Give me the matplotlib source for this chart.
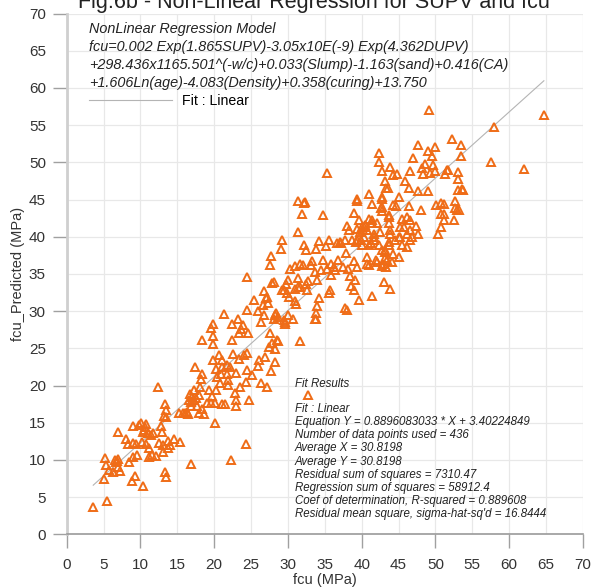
import numpy as np
import matplotlib.pyplot as plt
from matplotlib.ticker import MultipleLocator
from matplotlib.lines import Line2D

plt.rcParams['font.family'] = ['Liberation Sans', 'DejaVu Sans']

# measured vs predicted compressive strength (MPa)
fcu = np.array([
    3.6, 5.5, 5.2, 5.3, 5.1, 5.8, 6.5, 6.7, 6.9, 6.3,
    7.2, 7.0, 8.0, 8.3, 8.5, 8.9, 9.3, 9.0, 9.0, 9.0,
    9.4, 9.5, 9.8, 10.1, 10.3, 10.2, 10.3, 10.6, 10.8, 11.0,
    10.7, 11.1, 11.2, 11.6, 11.4, 11.7, 12.1, 12.4, 12.8, 12.9,
    12.5, 13.0, 13.1, 13.3, 13.2, 13.3, 13.4, 13.5, 13.4, 13.7,
    13.8, 14.0, 14.5, 15.4, 15.2, 15.8, 16.1, 16.3, 16.9, 16.8,
    16.7, 17.2, 17.0, 16.9, 17.4, 17.7, 17.9, 18.0, 18.1, 18.2,
    18.4, 18.3, 18.6, 18.4, 19.0, 19.3, 19.5, 19.7, 19.6, 19.8,
    19.9, 19.9, 19.9, 20.1, 20.1, 20.2, 20.4, 20.3, 20.6, 20.8,
    21.0, 21.1, 21.3, 21.0, 21.5, 21.7, 21.9, 21.9, 22.2, 22.3,
    22.4, 22.4, 22.5, 22.8, 22.9, 23.0, 22.9, 23.2, 23.3, 23.4,
    23.5, 23.6, 23.9, 24.1, 24.3, 24.3, 24.4, 24.5, 24.5, 24.6,
    24.5, 24.7, 25.1, 25.4, 25.9, 26.0, 26.1, 26.4, 26.3, 26.6,
    26.7, 26.8, 26.9, 27.1, 27.2, 27.3, 27.4, 27.5, 27.7, 27.6,
    27.7, 27.9, 28.1, 28.2, 28.3, 28.4, 28.5, 29.0, 29.2, 29.2,
    29.4, 29.6, 29.8, 29.9, 30.0, 6.8, 7.0, 10.5, 16.5, 17.3,
    17.5, 16.6, 21.8, 20.9, 28.7, 29.6, 30.0, 30.7, 31.1, 31.7,
    28.6, 27.9, 31.3, 32.2, 31.9, 34.8, 38.9, 39.3, 41.4, 42.6,
    43.7, 31.3, 30.9, 31.0, 30.9, 28.1, 27.0, 28.2, 29.5, 30.2,
    30.3, 31.3, 31.6, 31.7, 31.3, 32.0, 32.2, 32.5, 32.5, 32.6,
    32.7, 33.1, 33.3, 33.6, 33.8, 33.9, 34.2, 34.2, 34.0, 33.8,
    33.8, 34.5, 34.7, 35.2, 35.3, 35.5, 35.6, 35.7, 35.8, 35.9,
    36.2, 36.4, 36.6, 36.8, 37.0, 37.2, 37.5, 37.7, 37.8, 37.9,
    38.0, 38.2, 38.3, 38.4, 38.5, 38.7, 38.9, 39.0, 39.1, 39.2,
    39.3, 39.4, 39.6, 39.9, 40.2, 40.3, 40.4, 41.0, 41.4, 41.4,
    41.6, 41.7, 41.9, 42.1, 42.5, 42.8, 43.0, 43.2, 43.4, 43.7,
    43.8, 44.1, 35.3, 39.3, 41.0, 42.8, 33.6, 38.0, 32.3, 40.7,
    52.2, 53.5, 57.5, 53.5, 47.7, 49.0, 50.0, 49.5, 42.3, 42.4,
    46.9, 43.8, 42.8, 46.5, 48.6, 48.2, 49.6, 50.0, 49.3, 48.3,
    51.6, 51.3, 53.1, 53.0, 44.8, 43.2, 45.9, 43.6, 46.4, 47.7,
    49.0, 53.1, 53.7, 44.3, 42.8, 45.0, 43.3, 42.7, 44.2, 44.7,
    46.4, 51.1, 52.6, 48.1, 42.7, 52.9, 51.1, 46.1, 46.6, 45.5,
    43.7, 52.5, 50.8, 41.0, 45.7, 47.4, 47.7, 50.4, 43.9, 45.0,
    46.8, 41.2, 43.7, 45.5, 46.1, 42.8, 43.2, 42.9, 40.1, 39.8,
    39.6, 40.7, 41.4, 39.4, 40.1, 41.0, 41.7, 42.3, 43.7, 43.9,
    44.5, 45.2, 45.2, 46.1, 46.6, 46.6, 43.2, 44.2, 45.1, 40.7,
    43.3, 50.1, 51.1, 50.8, 52.6, 53.2, 50.8, 53.6, 64.7, 58.0,
    62.0, 51.7, 49.1, 40.3, 42.1,
])
fcu_pred = np.array([
    3.7, 4.5, 10.3, 9.3, 7.5, 8.6, 10.0, 9.7, 9.1, 8.4,
    8.5, 13.7, 12.8, 12.1, 9.7, 7.2, 7.9, 10.4, 14.5, 12.3,
    12.1, 10.7, 14.7, 15.0, 13.8, 12.4, 6.5, 14.4, 14.8, 13.6,
    12.2, 11.6, 10.4, 10.7, 13.3, 13.6, 10.5, 19.8, 14.6, 13.8,
    12.3, 11.0, 12.0, 17.5, 15.9, 8.4, 7.7, 15.8, 16.7, 12.6,
    11.6, 12.0, 12.8, 12.4, 16.3, 16.3, 16.3, 16.4, 9.4, 17.8,
    18.9, 19.4, 18.5, 17.2, 22.5, 17.2, 16.3, 18.7, 19.8, 20.9,
    21.6, 26.1, 16.2, 16.9, 17.7, 19.4, 17.7, 18.6, 27.7, 28.3,
    26.6, 25.6, 23.4, 17.7, 15.0, 19.4, 21.2, 22.2, 24.1, 20.3,
    22.5, 23.4, 29.6, 17.5, 17.5, 21.6, 20.1, 20.7, 22.5, 10.0,
    28.3, 26.1, 24.3, 19.0, 18.0, 17.2, 21.7, 29.0, 27.0, 23.5,
    19.8, 27.6, 28.2, 24.1, 12.1, 20.5, 22.1, 24.4, 30.2, 27.0,
    34.6, 18.0, 21.4, 31.5, 30.0, 22.6, 23.4, 28.6, 20.3, 30.8,
    32.7, 29.5, 23.9, 31.9, 19.8, 31.1, 25.2, 36.2, 37.4, 27.0,
    21.9, 33.8, 29.0, 24.9, 23.2, 29.7, 26.1, 38.3, 39.6, 32.8,
    28.8, 28.6, 33.7, 32.4, 34.2, 9.9, 10.1, 14.0, 16.2, 18.0,
    18.3, 18.1, 22.8, 21.5, 29.2, 28.3, 29.5, 29.0, 30.9, 26.0,
    26.0, 25.7, 44.8, 44.5, 43.0, 42.9, 43.2, 44.8, 44.4, 43.8,
    42.9, 40.7, 36.0, 33.0, 31.3, 33.9, 31.7, 29.5, 32.8, 31.9,
    35.7, 34.5, 36.4, 33.3, 33.2, 36.2, 38.9, 38.2, 33.7, 32.9,
    34.1, 36.2, 36.7, 35.3, 38.3, 34.2, 39.4, 31.7, 30.7, 29.8,
    29.0, 35.5, 36.9, 38.7, 35.7, 32.5, 39.5, 32.8, 36.4, 34.8,
    35.9, 35.5, 39.2, 36.9, 39.3, 39.1, 35.9, 39.5, 30.4, 37.8,
    41.5, 35.6, 40.9, 34.7, 33.4, 39.5, 32.9, 36.8, 34.2, 39.3,
    35.9, 41.1, 31.5, 39.5, 40.9, 40.0, 41.6, 36.2, 32.0, 42.2,
    39.5, 40.4, 36.9, 41.8, 40.7, 36.0, 33.9, 38.0, 36.9, 39.3,
    33.0, 36.6, 48.5, 45.1, 45.7, 45.1, 29.0, 30.2, 44.7, 37.3,
    53.2, 52.3, 50.1, 50.8, 52.3, 51.5, 52.1, 50.9, 51.2, 50.1,
    50.6, 49.4, 48.9, 48.8, 49.8, 49.2, 49.6, 48.9, 48.6, 48.4,
    49.0, 48.4, 48.7, 47.8, 48.4, 47.5, 47.5, 46.6, 46.6, 46.2,
    46.2, 46.3, 46.3, 48.3, 45.4, 45.4, 46.6, 44.0, 44.2, 44.1,
    44.1, 44.4, 44.8, 43.6, 43.5, 43.6, 43.1, 42.7, 42.3, 42.4,
    42.7, 42.2, 41.3, 42.4, 41.3, 41.5, 40.4, 40.3, 40.4, 40.0,
    40.0, 39.1, 38.9, 38.9, 38.6, 38.2, 37.1, 36.4, 41.3, 40.7,
    42.2, 40.9, 41.8, 39.5, 38.9, 38.9, 40.0, 38.9, 41.8, 40.9,
    39.5, 41.3, 40.0, 40.4, 39.5, 40.9, 38.2, 37.7, 37.3, 36.4,
    35.9, 44.2, 42.2, 44.5, 43.8, 43.6, 43.0, 46.4, 56.3, 54.7,
    49.1, 49.0, 57.0, 41.3, 36.6,
])

# linear fit reported by the regression software
slope = 0.8896083033
intercept = 3.40224849

model_lines = [
    "NonLinear Regression Model",
    "fcu=0.002 Exp(1.865SUPV)-3.05x10E(-9) Exp(4.362DUPV)",
    "+298.436x1165.501^(-w/c)+0.033(Slump)-1.163(sand)+0.416(CA)",
    "+1.606Ln(age)-4.083(Density)+0.358(curing)+13.750",
]
fit_lines = [
    "Fit : Linear",
    "Equation Y = 0.8896083033 * X + 3.40224849",
    "Number of data points used = 436",
    "Average X = 30.8198",
    "Average Y = 30.8198",
    "Residual sum of squares = 7310.47",
    "Regression sum of squares = 58912.4",
    "Coef of determination, R-squared = 0.889608",
    "Residual mean square, sigma-hat-sq'd = 16.8444",
]

orange = '#ef6c17'

fig = plt.figure(figsize=(5.97, 5.88), dpi=100)
ax = fig.add_axes([0.1117, 0.0913, 0.8648, 0.8857])

# fitted line over the measured range
xs = np.array([fcu.min(), fcu.max()])
ax.plot(xs, slope * xs + intercept, color='#b4b4b4', lw=0.8, zorder=2)

ax.plot(fcu, fcu_pred, ls='none', marker='^', ms=6, mfc='none',
        mec=orange, mew=1.4, zorder=3)

ax.set_xlim(0, 70)
ax.set_ylim(0, 70)
for axis in (ax.xaxis, ax.yaxis):
    axis.set_major_locator(MultipleLocator(10))
    axis.set_minor_locator(MultipleLocator(5))
    axis.set_minor_formatter('{x:.0f}')

ax.set_axisbelow(True)
ax.grid(which='both', color='#e8e8e8', lw=0.9)
ax.tick_params(which='major', length=10, width=1, color='#a0a0a0',
               pad=5, labelsize=11, labelcolor='#333333')
ax.tick_params(which='minor', length=0, pad=15, labelsize=11,
               labelcolor='#333333')
ax.tick_params(axis='x', which='major', pad=7)
ax.tick_params(axis='x', which='minor', pad=17)

for side in ('top', 'right'):
    ax.spines[side].set_visible(False)
ax.spines['left'].set_color('#cfcfcf')
ax.spines['left'].set_linewidth(2)
ax.spines['bottom'].set_color('#9a9a9a')
ax.spines['bottom'].set_linewidth(1.2)

ax.set_xlabel('fcu (MPa)', fontsize=10.5, color='#333333', labelpad=1)
ax.set_ylabel('fcu_Predicted (MPa)', fontsize=10.5, color='#333333',
              labelpad=3)

# model equation block, upper left
for i, line in enumerate(model_lines):
    ax.text(0.0430, 0.9705 - i * 0.0346, line, transform=ax.transAxes,
            fontsize=10.4, style='italic', color='#222222', va='center')

handle = Line2D([], [], color='#b4b4b4', lw=0.8)
ax.legend([handle], ['Fit : Linear'], loc='center left',
          bbox_to_anchor=(0.0430, 0.8320), frameon=False, fontsize=10.2,
          handlelength=5.9, handletextpad=0.7, borderaxespad=0,
          borderpad=0)

# fit summary block, lower right
ax.text(0.4422, 0.2881, 'Fit Results', transform=ax.transAxes,
        fontsize=8.3, style='italic', color='#222222', va='center')
ax.plot([0.4674], [0.2673], transform=ax.transAxes, marker='^', ms=6,
        mfc='none', mec=orange, mew=1.4, clip_on=False)
for i, line in enumerate(fit_lines):
    ax.text(0.4422, 0.2401 - i * 0.0251, line, transform=ax.transAxes,
            fontsize=8.3, style='italic', color='#222222', va='center')

fig.text(0.526, 0.987, 'Fig.6b - Non-Linear Regression for SUPV and fcu',
         ha='center', va='baseline', fontsize=15.5, color='#222222')

fig.savefig('out.png', dpi=100)
